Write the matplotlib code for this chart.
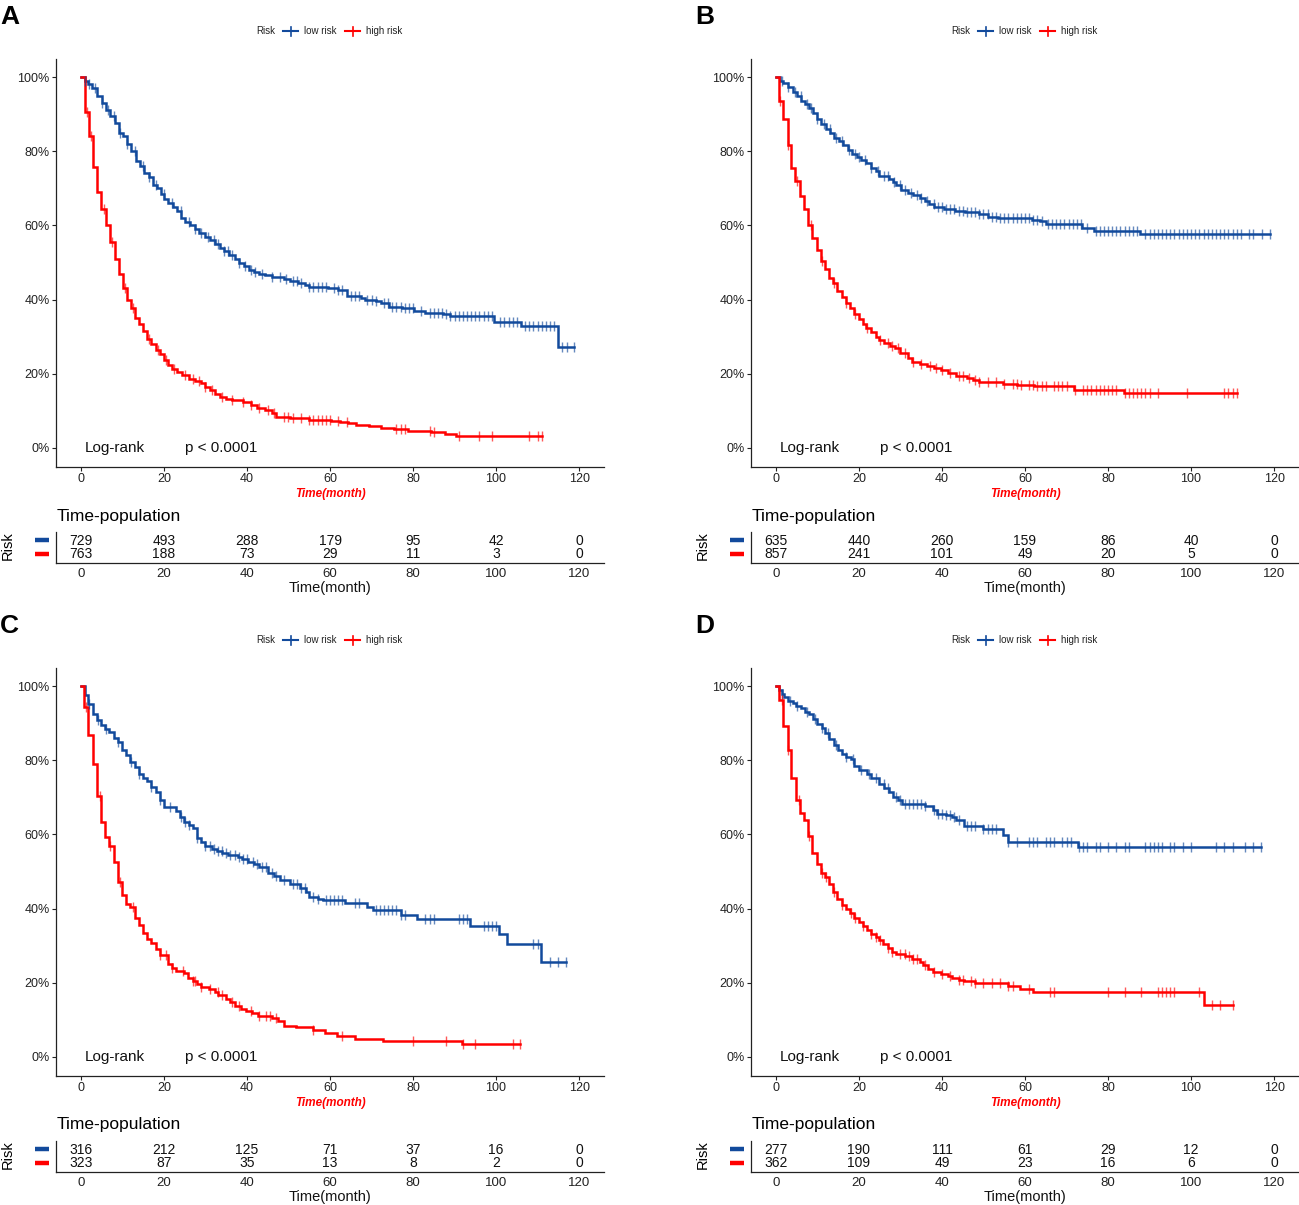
import matplotlib
matplotlib.use('Agg')
import matplotlib.pyplot as plt
import numpy as np
from matplotlib.lines import Line2D

plt.rcParams['font.family'] = ['Liberation Sans', 'DejaVu Sans']

# ---------------- data (time in months, survival in %) ----------------
time_ticks = [0, 20, 40, 60, 80, 100, 120]
surv_ticks = [0, 20, 40, 60, 80, 100]
group_labels = ['low risk', 'high risk']

A_low = [(0,100),(1,99),(1.8,98),(2.7,97),(3.8,95),(5,93),(6,91),(7,89.5),(8.2,87.5),(9.2,85),
         (10.2,84),(11,82),(12,80),(13.2,77.5),(14.2,76),(15.2,74),(16.3,73),(17.3,71),(18.3,70),(19.2,68.5),
         (20.1,67),(21,66),(22.2,65),(23.2,64),(24.2,62),(25,61),(26.2,60),(27.4,59),(28.4,58),(30,57),
         (31,56),(32.2,55),(33.4,54),(34.4,53),(35.6,52),(37,51),(38,50),(39.4,49),(40.4,48),(41.6,47.5),
         (43,47),(44.4,46.5),(46,46),(49,45.5),(50.4,45),(52.4,44.5),(54,44),(55,43.5),(59.5,43),(62,42.5),
         (64,41),(67.5,40.5),(68.5,40),(71,39.5),(72.3,39),(74.3,38),(77.3,37.7),(80.3,37),(82.8,36.5),(87.3,36),
         (88.8,35.5),(99.5,34),(106,33),(115,27.3)]
A_low_end = 118.7
A_low_cens = [1,2,3.5,5,6.5,8,9.5,11,13,15,16.5,18,20,22,24,26,27.5,29,30.5,32,33,34.5,35.5,36.5,38,39.5,
              41,42,43.5,46,48,49.5,51,52,53,55,56,57,58,59,61,62,63,65,66,67,69,70,71,73,74,75,76,77,78,79,
              80,82,84,85,86,87,88,89,90,91,92,93,94,95,96,97,98,99,101,102,103,104,105,107,108,109,110,111,
              112,113,114,116,117,118.7]
A_high = [(0,100),(1,90.5),(2,84),(3,75.7),(3.9,69),(4.9,64.5),(6.1,60),(7.1,55.5),(8.1,51),(9.2,47),
          (10.1,43),(11,40),(12,37.7),(13,35),(14,33.4),(15,31.4),(16,29.5),(17,27.9),(18,26.5),(19,25.2),
          (20,23.6),(21,22.5),(22,21.4),(23.2,20.5),(24.4,19.7),(26,18.6),(27.4,18),(29,17.4),(30,16.5),(31,15.5),
          (32.4,14.5),(33.4,13.7),(35,13.3),(36.4,12.8),(39,12.3),(41,11.5),(42.4,10.8),(44.4,10.2),(46,9.3),(47,8.3),
          (50.4,8),(55,7.6),(60.3,7.2),(62.3,6.9),(64.3,6.6),(66.3,6.2),(69.3,5.8),(72.3,5.4),(75.3,5.1),(78.8,4.6),
          (84.3,4.3),(87.8,3.8),(90.3,3.2)]
A_high_end = 111
A_high_cens = [1.5,2.5,5.5,7.5,10.5,12.5,16.5,18.5,20.5,22.5,25,27,28.5,30,31.5,34,36.5,39,41,43,45,46.5,
               49,50,51,53,55,56,57,58,59,60,62,64,76,77,78,84,85,91,96,99,108,110,111]
A_risk_low = [729, 493, 288, 179, 95, 42, 0]
A_risk_high = [763, 188, 73, 29, 11, 3, 0]

B_low = [(0,100),(0.9,99),(1.8,98.3),(2.9,97.3),(4,96),(5,95),(6.1,93.6),(7,92.6),(8,91.7),(9,90.3),
         (10,88.8),(10.9,87.4),(12,86),(13.1,84.8),(14.1,83.7),(15.2,82.8),(16.2,81.6),(17.3,80.3),(18.4,79.2),(19.5,78.4),
         (20.6,77.6),(21.8,76.7),(22.9,75.6),(24,74.6),(24.9,73.4),(27.2,72.6),(28.1,71.7),(29,70.8),(30.2,69.5),(31.8,68.8),
         (33,68.1),(34.6,67.4),(36,66.6),(36.9,65.7),(38.2,65),(40.6,64.3),(43.1,63.9),(45.6,63.5),(48.8,63),(51.2,62.4),
         (53.5,61.9),(61.8,61.5),(63.6,61.1),(65,60.5),(73.7,59.4),(76.5,58.5),(87.6,57.7)]
B_low_end = 118.9
B_low_cens = [1.5,3,4.5,6,7.5,8.5,10,11.5,13,14.5,16,17.5,19,20,21.5,23,24.5,26,27,28.5,30,31,32.5,34,35,
              36.5,38,39,40,41,42,43,44,45,46,47,48,49,50,51,52,53,54,55,56,57,58,59,60,61,62,63,64,65.5,
              66.5,67.5,68.5,69.5,70.5,71.5,72.5,73.5,75,77,78,79,80,81,82,83,84,85,86,87,89,90,91,92,93,
              94,95,96,97,98,99,100,101,102,103,104,105,106,107,108,109,110,111,112,114,115,117,118.9]
B_high = [(0,100),(0.7,93.5),(1.7,88.6),(2.8,81.6),(3.7,75.6),(4.6,71.9),(5.7,68),(6.7,64.3),(7.8,60),(8.8,56.7),
          (9.9,53.4),(10.9,50.5),(11.9,48.3),(12.9,45.7),(13.8,44.4),(14.7,42.3),(15.8,40.6),(16.9,39),(17.9,37.7),(18.8,36.1),
          (19.9,34.7),(20.9,33.5),(21.8,32.3),(22.9,31.2),(24,30),(24.9,29),(26.1,28.3),(27.5,27.6),(28.6,26.9),(30,25.7),
          (31.8,24.2),(32.9,23.3),(34.6,22.7),(36.4,22.1),(38.2,21.5),(39.8,20.9),(41.5,20.2),(43.3,19.5),(46.1,18.8),(47.5,18.4),
          (48.8,17.7),(54.8,17.3),(58.1,17),(62.2,16.6),(71.9,15.7),(83.9,14.8)]
B_high_end = 111
B_high_cens = [1,3,5,8.5,11,14,17,19,22,25,27,28,29.5,31,33,35,37,38.5,40,42,44,45,46.5,48,49,51,53,55,
               57,58,59,61,62,63,64,65,67,68,69,70,72,74,75,76,77,78,79,80,81,82,84,85,86,87,88,89,90,92,
               99,108,109,110,111]
B_risk_low = [635, 440, 260, 159, 86, 40, 0]
B_risk_high = [857, 241, 101, 49, 20, 5, 0]

C_low = [(0,100),(1,97.5),(1.8,95.1),(2.8,92.4),(3.8,90.9),(4.9,89.4),(5.8,88.5),(6.8,87.6),(7.9,86.1),(8.9,84.9),
         (9.8,82.7),(10.9,81.3),(11.9,79.6),(13,78.2),(14,76.4),(15,75.3),(16,74.3),(17,72.8),(18,71.3),(19,69.2),
         (20,67.4),(22.9,66.2),(23.8,64.8),(24.9,63.4),(26,62.5),(27,61.6),(27.9,59),(28.9,58),(30,56.9),(31.5,56.2),
         (32.9,55.6),(34.1,55.1),(35.5,54.4),(37.9,53.8),(38.9,53.3),(40.3,52.6),(41.7,52),(43,51.1),(45,49.7),(46.5,48.8),
         (47.9,47.7),(50.3,46.6),(52.7,45.5),(54.1,44.6),(55,43.2),(57,42.5),(58.2,42.2),(63.6,41.4),(68.9,40.5),(70.3,39.5),
         (77,38.3),(81,37.3),(93.8,35.4),(100.8,33.2),(102.7,30.5),(110.8,25.5)]
C_low_end = 116.8
C_low_cens = [2,4,6,9,12,14,17,19,21.5,24,25,26,28,30,31,32,33,34,35,36,37,38,39,40,41.5,42.5,43.5,44.5,
              46,47,49,51,52,53,54,56,57,59,60,61,62,63,66,67,71,72,73,74,75,76,77,78,83,84,85,91,92,93,
              97,98,99,100,109,110,113,115,116.8]
C_high = [(0,100),(0.8,94.3),(1.8,86.7),(2.8,79.1),(3.8,70.3),(4.9,63.4),(5.8,59.4),(6.8,56.9),(7.9,52.6),(8.9,47.3),
          (9.9,43.7),(10.8,41.3),(11.9,40.5),(13,37.4),(14,35.6),(15,33.5),(16,31.8),(17,30.7),(18,29.2),(19,27.5),
          (21,25.1),(22,24),(23,23.3),(24.9,22.6),(25.8,21.3),(27,20.5),(27.9,19.6),(28.9,18.8),(30.8,18.3),(32.2,17.5),
          (33.1,16.8),(35,15.6),(36,14.7),(37.2,13.8),(38.6,12.9),(39.8,12.3),(41.2,11.8),(42.7,11.1),(46,10.5),(47.4,9.8),
          (48.9,8.4),(51.9,8.1),(56,7.4),(58.9,6.5),(61.7,5.6),(66,4.9),(72.7,4.4),(91.9,3.6)]
C_high_end = 105.8
C_high_cens = [1.2,4.5,7,9.5,12.5,19,20.5,22,24.5,27,27.5,29,31,33,34,36.5,38,41,43,44.5,45.5,47,56,
               63,80,88,92,95,104,105.8]
C_risk_low = [316, 212, 125, 71, 37, 16, 0]
C_risk_high = [323, 87, 35, 13, 8, 2, 0]

D_low = [(0,100),(0.7,99),(1.4,97.9),(2,97),(2.9,96.1),(4.1,95.5),(4.9,94.5),(6,94),(6.9,93),(7.9,92.4),
         (8.9,91.2),(10,89.9),(11,88.7),(11.8,87.4),(12.9,85.6),(13.9,84),(14.9,82.7),(15.9,81.6),(17,80.9),(18,80.4),
         (18.9,78.4),(20.1,77.3),(21.9,76.4),(23,75.3),(24.9,73.5),(26.1,72.4),(27.2,71.5),(28.1,70.1),(29.3,69.2),(30.4,68.2),
         (35.9,67.7),(37.8,66.5),(38.9,65.6),(41,65.2),(42.4,64.6),(43.3,63.9),(45.2,62.2),(49.8,61.4),(54.8,59.8),(55.8,58),
         (72.8,56.5)]
D_low_end = 116.9
D_low_cens = [1.5,3.5,5,7.5,9.5,11,12.5,14.5,17,18.5,20.5,22.5,24,26,27,29,30,31,32,33,34,35,36,38,39,40,
              41,42,43,44,46,47,48,50,51,52,53,56,58,61,62,63,65,66,67,69,70,71,73,74,75,77,78,80,82,84,85,
              89,90,91,92,93,95,96,98,100,106,108,110,113,115,116.9]
D_high = [(0,100),(0.7,96.3),(1.7,89.1),(2.8,82.7),(3.7,75.3),(4.8,69.3),(5.8,65.9),(6.7,63.8),(7.8,59.6),(8.8,55.1),
          (9.8,52),(10.8,49.5),(11.9,48.4),(12.8,46.6),(13.8,44.4),(14.7,42.5),(15.9,40.9),(16.9,40),(17.9,38.9),(18.9,37.4),
          (19.9,36.5),(20.9,35.2),(21.9,34.1),(22.9,33.2),(24,32.3),(24.9,31.6),(25.8,30.4),(26.9,29.3),(28,28.4),(29,27.8),
          (31.1,27.2),(32.7,26.4),(34.6,25.7),(35.5,24.8),(36.6,23.7),(37.8,22.9),(39.8,22.4),(41.5,21.9),(42.4,21.3),(44,20.8),
          (45.3,20.4),(47.9,19.9),(55.8,19.2),(58.8,18.3),(62,17.5),(103,13.9)]
D_high_end = 110
D_high_cens = [1.5,3,5.5,8,11,12,14,16,18,19,21,23,24,25,27,28,30,31,32,33,34,36,38,40,42,44,45,47,48,
               50,52,54,56,57,61,66,67,80,84,88,92,93,94,95,96,102,105,107,110]
D_risk_low = [277, 190, 111, 61, 29, 12, 0]
D_risk_high = [362, 109, 49, 23, 16, 6, 0]

# ---------------- layout ----------------
W, H = 1299, 1205
BLUE = '#124A9C'
RED = '#FF0000'
fig = plt.figure(figsize=(W / 100, H / 100), dpi=100)


def rect(l, t, r, b):
    return [l / W, 1 - b / H, (r - l) / W, (b - t) / H]


def fpt(x, y):
    return x / W, 1 - y / H


def surv_at(pairs, times):
    t = np.array([p[0] for p in pairs])
    s = np.array([p[1] for p in pairs])
    idx = np.searchsorted(t, np.asarray(times), side='right') - 1
    return s[idx]


def draw_curve(ax, pairs, end, cens, color):
    ts = [p[0] for p in pairs] + [end]
    ss = [p[1] for p in pairs] + [pairs[-1][1]]
    ax.step(ts, ss, where='post', color=color, lw=1.8, solid_joinstyle='miter', zorder=3)
    ax.plot(cens, surv_at(pairs, cens), ls='none', marker='|', ms=7, mew=1.0,
            color=color, alpha=0.65, zorder=4)


def style_axes(ax):
    for s in ('top', 'right'):
        ax.spines[s].set_visible(False)
    for s in ('left', 'bottom'):
        ax.spines[s].set_linewidth(0.9)
        ax.spines[s].set_color('#222222')


panels = [
    ('A', 0, 0, A_low, A_low_end, A_low_cens, A_high, A_high_end, A_high_cens, A_risk_low, A_risk_high),
    ('B', 695, 0, B_low, B_low_end, B_low_cens, B_high, B_high_end, B_high_cens, B_risk_low, B_risk_high),
    ('C', 0, 609, C_low, C_low_end, C_low_cens, C_high, C_high_end, C_high_cens, C_risk_low, C_risk_high),
    ('D', 695, 609, D_low, D_low_end, D_low_cens, D_high, D_high_end, D_high_cens, D_risk_low, D_risk_high),
]

for (letter, dx, dy, lo, lo_end, lo_c, hi, hi_end, hi_c, r_lo, r_hi) in panels:
    # main survival axes
    ax = fig.add_axes(rect(56 + dx, 58.5 + dy, 604 + dx, 466.5 + dy))
    style_axes(ax)
    ax.set_xlim(-6, 126)
    ax.set_ylim(-5, 105)
    draw_curve(ax, lo, lo_end, lo_c, BLUE)
    draw_curve(ax, hi, hi_end, hi_c, RED)
    ax.set_xticks(time_ticks)
    ax.set_yticks(surv_ticks)
    ax.set_yticklabels([f'{v}%' for v in surv_ticks])
    ax.tick_params(length=3, width=0.8, labelsize=9, pad=1.5, colors='#222222')
    ax.set_xlabel('Time(month)', color=RED, fontweight='bold', fontstyle='italic',
                  fontsize=8.5, labelpad=2)
    ax.text(1, 0, 'Log-rank', fontsize=11, va='center', ha='left', color='#111111')
    ax.text(25, 0, 'p < 0.0001', fontsize=11, va='center', ha='left', color='#111111')

    # risk table axes
    rt = fig.add_axes(rect(56 + dx, 532 + dy, 604 + dx, 562.5 + dy))
    style_axes(rt)
    rt.set_xlim(-6, 126)
    rt.set_ylim(0.37, 2.63)
    rt.set_yticks([])
    rt.set_xticks(time_ticks)
    rt.tick_params(axis='x', length=0, labelsize=9.5, pad=4, colors='#222222')
    for t, n in zip(time_ticks, r_lo):
        rt.text(t, 2, str(n), ha='center', va='center', fontsize=10, color='#111111')
    for t, n in zip(time_ticks, r_hi):
        rt.text(t, 1, str(n), ha='center', va='center', fontsize=10, color='#111111')
    rt.set_xlabel('Time(month)', fontsize=10.5, labelpad=1, color='#111111')

    # figure-level decorations
    fig.text(*fpt(57 + dx, 516 + dy), 'Time-population', fontsize=12.5, ha='left', va='center')
    fig.text(*fpt(8 + dx, 546 + dy), 'Risk', fontsize=10.5, rotation=90, ha='center', va='center')
    for yy, col in ((540, BLUE), (554, RED)):
        x0, y0 = fpt(35 + dx, yy + dy)
        x1, _ = fpt(49 + dx, yy + dy)
        fig.add_artist(Line2D([x0, x1], [y0, y0], color=col, lw=3.2, solid_capstyle='butt'))

    # legend
    ly = 31 + dy
    fig.text(*fpt(256 + dx, ly), 'Risk', fontsize=7, ha='left', va='center', color='#222222')
    for (xa, xb, lab, xl), col in zip([(283, 298, group_labels[0], 304), (345, 360, group_labels[1], 366)],
                                      (BLUE, RED)):
        a0, b0 = fpt(xa + dx, ly)
        a1, _ = fpt(xb + dx, ly)
        fig.add_artist(Line2D([a0, a1], [b0, b0], color=col, lw=1.5))
        cx, cy0 = fpt((xa + xb) / 2 + dx, ly - 4.5)
        _, cy1 = fpt((xa + xb) / 2 + dx, ly + 4.5)
        fig.add_artist(Line2D([cx, cx], [cy0, cy1], color=col, lw=1.2))
        fig.text(*fpt(xl + dx, ly), lab, fontsize=7, ha='left', va='center', color='#222222')

    # panel letter
    fig.text(*fpt(0 + dx, 17 + dy), letter, fontsize=19, fontweight='bold', ha='left', va='center')

fig.savefig('out.png', dpi=100)
